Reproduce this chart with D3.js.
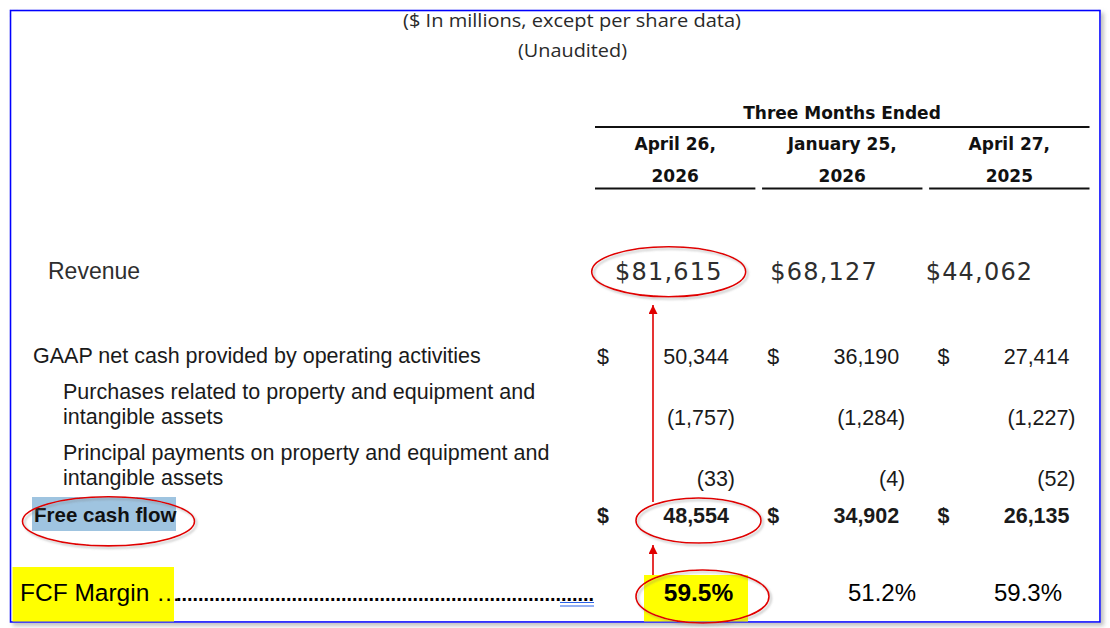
<!DOCTYPE html>
<html><head><meta charset="utf-8">
<script src="https://cdn.jsdelivr.net/npm/d3@7"></script>
<style>body{margin:0;background:#fff}svg{display:block}</style>
</head><body><svg id="c" width="1110" height="628"></svg>
<script>
// ---- data ----
const titleLines = ["($ In millions, except per share data)", "(Unaudited)"];
const headerTitle = "Three Months Ended";
const periodMonths = ["April 26,", "January 25,", "April 27,"];
const periodYears = ["2026", "2026", "2025"];
const revenueLabel = "Revenue";
const revenue = [81615, 68127, 44062];
const operatingLabel = "GAAP net cash provided by operating activities";
const operatingCash = [50344, 36190, 27414];
const purchasesLabel = ["Purchases related to property and equipment and", "intangible assets"];
const purchasesPPE = [-1757, -1284, -1227];
const principalLabel = ["Principal payments on property and equipment and", "intangible assets"];
const principalPPE = [-33, -4, -52];
const fcfLabel = "Free cash flow";
const freeCashFlow = [48554, 34902, 26135];
const marginLabel = "FCF Margin …";
const fcfMargin = [59.5, 51.2, 59.3];

// ---- setup ----
const svg = d3.select("#c");
const W = 1110, H = 628;
const FL = "'Liberation Sans', Arial, sans-serif";
const FW = "'DejaVu Sans', Verdana, sans-serif";
const FT = "'Open Sans', 'Noto Sans', sans-serif";
const cols = d3.range(3);
const fmt = d3.format(",");
const fmtNum = v => v < 0 ? "(" + fmt(-v) + ")" : fmt(v);

const defs = svg.append("defs");
const sh = defs.append("filter").attr("id","sh").attr("x","-5%").attr("y","-5%").attr("width","110%").attr("height","110%");
sh.append("feDropShadow").attr("dx",3).attr("dy",3).attr("stdDeviation",2).attr("flood-color","#888").attr("flood-opacity",0.55);
const sh2 = defs.append("filter").attr("id","sh2").attr("x","-20%").attr("y","-30%").attr("width","140%").attr("height","160%");
sh2.append("feDropShadow").attr("dx",2).attr("dy",2).attr("stdDeviation",1.2).attr("flood-color","#777").attr("flood-opacity",0.45);
defs.append("marker").attr("id","ah").attr("viewBox","0 0 10 10").attr("refX",10).attr("refY",5)
  .attr("markerWidth",9).attr("markerHeight",9).attr("markerUnits","userSpaceOnUse").attr("orient","auto")
  .append("path").attr("d","M0,0L10,5L0,10Z").attr("fill","#e00000");

svg.append("rect").attr("width",W).attr("height",H).attr("fill","#fff");
// frame
svg.append("rect").attr("x",10.5).attr("y",10.5).attr("width",1089.5).attr("height",611.5)
  .attr("fill","#fff").attr("stroke","#0000ff").attr("stroke-width",1.6).attr("filter","url(#sh)");

// scales
const colBand = d3.scaleBand().domain(cols).range([595, 1089.5]).paddingInner(0.04);
const numRight = d3.scalePoint().domain(cols).range([729, 1069.5]);
const revCenter = d3.scalePoint().domain(cols).range([668.8, 979.5]);
const marginCenter = d3.scaleOrdinal().domain(cols).range([698.5, 882, 1028]);

function txt(x, y, s, o) {
  const t = svg.append("text").attr("x", x).attr("y", y).text(s)
    .attr("font-family", o.f || FL).attr("font-size", o.s || 21.5)
    .attr("fill", o.c || "#1a1a1a").attr("text-anchor", o.a || "start")
    .attr("font-weight", o.w || 400);
  if (o.ls) t.attr("letter-spacing", o.ls);
  if (o.tl) t.attr("textLength", o.tl).attr("lengthAdjust", "spacingAndGlyphs");
  return t;
}

// titles
txt(572, 27, titleLines[0], {f: FT, s: 18.5, c: "#2a2a2a", a: "middle", tl: 338});
txt(572.5, 57, titleLines[1], {f: FT, s: 18.5, c: "#2a2a2a", a: "middle", tl: 109});

// header
txt(842, 119, headerTitle, {f: FW, s: 17, w: 700, a: "middle", c: "#111"});
svg.append("line").attr("x1", colBand.range()[0]).attr("x2", colBand.range()[1]).attr("y1",127).attr("y2",127)
  .attr("stroke","#111").attr("stroke-width",2);
const hdr = svg.append("g");
hdr.selectAll("text.m").data(cols).join("text").attr("class","m")
  .attr("x", i => colBand(i) + colBand.bandwidth()/2).attr("y", 150).text(i => periodMonths[i]);
hdr.selectAll("text.y").data(cols).join("text").attr("class","y")
  .attr("x", i => colBand(i) + colBand.bandwidth()/2).attr("y", 182).text(i => periodYears[i]);
hdr.selectAll("text").attr("font-family", FW).attr("font-size",17).attr("font-weight",700)
  .attr("text-anchor","middle").attr("fill","#111");
hdr.selectAll("line").data(cols).join("line")
  .attr("x1", i => colBand(i)).attr("x2", i => colBand(i) + colBand.bandwidth())
  .attr("y1",188.5).attr("y2",188.5).attr("stroke","#111").attr("stroke-width",2);

// revenue
txt(48, 279, revenueLabel, {s: 23, c: "#2e2e2e"});
svg.append("g").selectAll("text").data(cols).join("text")
  .attr("x", i => revCenter(i)).attr("y", 280).attr("text-anchor","middle")
  .attr("font-family", FW).attr("font-size", 24).attr("letter-spacing", 1.2).attr("fill","#2e2e2e")
  .text(i => "$" + fmt(revenue[i]));

// operating cash
txt(33, 363, operatingLabel, {});
function numRow(vals, y, opts) {
  const g = svg.append("g");
  g.selectAll("text").data(cols).join("text")
    .attr("x", i => numRight(i) + (vals[i] < 0 ? 6 : 0)).attr("y", y)
    .attr("text-anchor","end").attr("font-family", FL).attr("font-size", opts.s || 21.5)
    .attr("font-weight", opts.w || 400).attr("fill","#1a1a1a")
    .text(i => fmtNum(vals[i]));
  if (opts.dollar) {
    g.selectAll("text.d").data(cols).join("text").attr("class","d")
      .attr("x", i => numRight(i) - 132).attr("y", y)
      .attr("font-family", FL).attr("font-size", opts.s || 21.5).attr("font-weight", opts.w || 400)
      .attr("fill","#1a1a1a").text("$");
  }
}
numRow(operatingCash, 364, {dollar: true});
txt(63, 399, purchasesLabel[0], {});
txt(63, 424, purchasesLabel[1], {});
numRow(purchasesPPE, 425, {});
txt(63, 460, principalLabel[0], {});
txt(63, 485, principalLabel[1], {});
numRow(principalPPE, 486, {});

// thick rule
svg.append("line").attr("x1", 28).attr("x2", 1090).attr("y1", 495).attr("y2", 495)
  .attr("stroke","#000").attr("stroke-width",4.5).attr("filter","url(#sh2)");

// free cash flow
svg.append("rect").attr("x",32).attr("y",497).attr("width",144).attr("height",34).attr("fill","#9fc4e0");
txt(34, 522, fcfLabel, {s: 20.5, w: 700, c: "#111"});
numRow(freeCashFlow, 523, {dollar: true, w: 700, s: 21.5});

// margin row
svg.append("rect").attr("x",12.5).attr("y",567).attr("width",161.5).attr("height",54.5).attr("fill","#ffff00");
svg.append("rect").attr("x",644).attr("y",575).attr("width",104).attr("height",46.5).attr("fill","#ffff00");
txt(20, 601, marginLabel, {s: 24.5, c: "#000"});
txt(176, 601, ".".repeat(76), {s: 20, w: 700, c: "#000", tl: 418});
svg.append("g").selectAll("line").data([602.5, 606]).join("line")
  .attr("x1",560).attr("x2",594).attr("y1", d => d).attr("y2", d => d)
  .attr("stroke","#2a62e8").attr("stroke-width",1.2);
svg.append("g").selectAll("text").data(cols).join("text")
  .attr("x", i => marginCenter(i)).attr("y", 601).attr("text-anchor","middle")
  .attr("font-family", FL).attr("font-size", i => i === 0 ? 24.5 : 24)
  .attr("font-weight", i => i === 0 ? 700 : 400).attr("fill","#000")
  .text(i => fcfMargin[i].toFixed(1) + "%");

// annotations: ellipses & arrows
const ells = [
  {cx: 668.7, cy: 271.7, rx: 77, ry: 25},
  {cx: 108.5, cy: 521.3, rx: 86, ry: 24.6},
  {cx: 698.5, cy: 520.5, rx: 62.5, ry: 22.5},
  {cx: 702.5, cy: 596.5, rx: 66.5, ry: 26.5}
];
svg.append("g").selectAll("ellipse").data(ells).join("ellipse")
  .attr("cx", d => d.cx).attr("cy", d => d.cy).attr("rx", d => d.rx).attr("ry", d => d.ry)
  .attr("fill","none").attr("stroke","#e00000").attr("stroke-width",1.6).attr("filter","url(#sh2)");
const arrows = [{x: 653, y1: 502, y2: 305}, {x: 653, y1: 575, y2: 545}];
svg.append("g").selectAll("line").data(arrows).join("line")
  .attr("x1", d => d.x).attr("x2", d => d.x).attr("y1", d => d.y1).attr("y2", d => d.y2)
  .attr("stroke","#e00000").attr("stroke-width",1.6).attr("marker-end","url(#ah)");
</script></body></html>
